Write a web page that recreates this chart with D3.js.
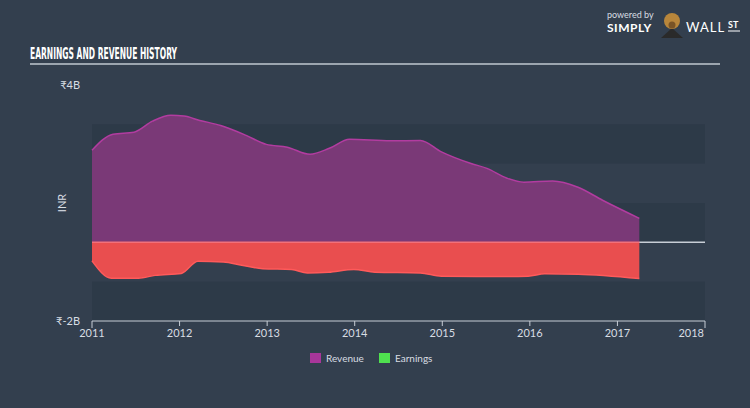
<!DOCTYPE html>
<html>
<head>
<meta charset="utf-8">
<script src="https://cdn.jsdelivr.net/npm/d3@7"></script>
<style>
  html, body { margin: 0; padding: 0; background: #333f4e; }
  svg { display: block; font-family: "Lato", "Open Sans", sans-serif; }
</style>
</head>
<body>
<svg id="chart" width="750" height="408"></svg>
<script>
// --- data (values in INR billions) ---
const revenueDates = [2011.0, 2011.24, 2011.48, 2011.69, 2011.9, 2012.05, 2012.23, 2012.47, 2012.76, 2012.99,
  2013.23, 2013.49, 2013.71, 2013.94, 2014.41, 2014.75, 2014.99, 2015.32, 2015.51, 2015.74,
  2015.93, 2016.26, 2016.55, 2016.83, 2017.25];
const revenueValues = [2.34, 2.75, 2.8, 3.08, 3.23, 3.21, 3.1, 2.97, 2.72, 2.49,
  2.42, 2.24, 2.39, 2.62, 2.58, 2.59, 2.3, 2.01, 1.88, 1.63,
  1.53, 1.56, 1.4, 1.07, 0.61];
const earningsDates = [2011.0, 2011.22, 2011.53, 2011.72, 2012.02, 2012.21, 2012.5, 2012.71, 2012.95, 2013.28,
  2013.46, 2013.7, 2013.99, 2014.23, 2014.75, 2014.99, 2015.6, 2015.98, 2016.17, 2016.55, 2017.25];
const earningsValues = [-0.47, -0.91, -0.91, -0.84, -0.79, -0.48, -0.5, -0.58, -0.67, -0.69,
  -0.78, -0.76, -0.69, -0.76, -0.78, -0.86, -0.87, -0.86, -0.8, -0.81, -0.92];
const yearTicks = [2011, 2012, 2013, 2014, 2015, 2016, 2017, 2018];
const bandEdges = [3, 2, 1, 0, -1, -2];
const yLabels = [{ v: 4, t: "₹4B" }, { v: -2, t: "₹-2B" }];
const legendItems = [{ name: "Revenue", color: "#a8369a" }, { name: "Earnings", color: "#4fe04f" }];

const svg = d3.select("#chart");
const x = d3.scaleLinear().domain([2011, 2018]).range([92, 705]);
const y = d3.scaleLinear().domain([-2, 4]).range([321, 85]);

// --- background bands ---
const bandColors = ["#2d3a48", "#333f4e", "#2d3a48", "#333f4e", "#2d3a48"];
svg.append("g").selectAll("rect")
  .data(d3.pairs(bandEdges))
  .enter().append("rect")
  .attr("x", x(2011))
  .attr("width", x(2018) - x(2011))
  .attr("y", d => y(d[0]))
  .attr("height", d => y(d[1]) - y(d[0]))
  .attr("fill", (d, i) => bandColors[i]);

// --- zero line ---
svg.append("line")
  .attr("x1", x(2011)).attr("x2", x(2018))
  .attr("y1", y(0)).attr("y2", y(0))
  .attr("stroke", "#c8ced6").attr("stroke-width", 1.5);

// --- areas ---
const rev = revenueDates.map((d, i) => [d, revenueValues[i]]);
const earn = earningsDates.map((d, i) => [d, earningsValues[i]]);

const area = d3.area().curve(d3.curveMonotoneX)
  .x(d => x(d[0])).y0(y(0)).y1(d => y(d[1]));
const line = d3.line().curve(d3.curveMonotoneX)
  .x(d => x(d[0])).y(d => y(d[1]));

svg.append("path").attr("d", area(rev)).attr("fill", "#7a3977");
svg.append("path").attr("d", line(rev)).attr("fill", "none")
  .attr("stroke", "#b23ca0").attr("stroke-width", 1.5);

svg.append("path").attr("d", area(earn)).attr("fill", "#e94e4f");
svg.append("path").attr("d", line(earn)).attr("fill", "none")
  .attr("stroke", "#ff5a5a").attr("stroke-width", 1.5);
svg.append("line")
  .attr("x1", x(2011)).attr("x2", x(earningsDates[earningsDates.length - 1]))
  .attr("y1", y(0)).attr("y2", y(0))
  .attr("stroke", "#f2707a").attr("stroke-width", 1.5);

// --- x axis ---
const xAxis = svg.append("g").attr("transform", `translate(0,${y(-2)})`);
xAxis.append("line")
  .attr("x1", x(2011)).attr("x2", x(2018))
  .attr("stroke", "#c8ced6").attr("stroke-width", 1);
xAxis.selectAll("line.tick").data(yearTicks).enter().append("line")
  .attr("class", "tick")
  .attr("x1", d => x(d)).attr("x2", d => x(d))
  .attr("y1", 0).attr("y2", (d, i) => (i === 0 || i === yearTicks.length - 1) ? 7 : 5)
  .attr("stroke", "#c8ced6").attr("stroke-width", 1);
xAxis.selectAll("text").data(yearTicks).enter().append("text")
  .attr("x", d => d === 2018 ? x(d) - 1 : x(d))
  .attr("y", 16)
  .attr("text-anchor", d => d === 2018 ? "end" : "middle")
  .attr("fill", "#d8dde3").attr("font-size", 11)
  .text(d => d);

// --- y labels ---
svg.selectAll("text.ylab").data(yLabels).enter().append("text")
  .attr("class", "ylab")
  .attr("x", 80).attr("y", d => y(d.v) + 4)
  .attr("text-anchor", "end")
  .attr("fill", "#d8dde3").attr("font-size", 11)
  .text(d => d.t);
svg.append("text")
  .attr("transform", `translate(66,${y(1)}) rotate(-90)`)
  .attr("text-anchor", "middle")
  .attr("fill", "#d8dde3").attr("font-size", 11)
  .text("INR");

// --- title ---
svg.append("text")
  .attr("x", 30).attr("y", 59)
  .attr("fill", "#ffffff")
  .attr("font-family", "'DejaVu Sans Condensed', 'Liberation Sans Narrow', sans-serif")
  .attr("font-weight", "bold").attr("font-size", 16)
  .attr("textLength", 147).attr("lengthAdjust", "spacingAndGlyphs")
  .text("EARNINGS AND REVENUE HISTORY");
svg.append("line")
  .attr("x1", 30).attr("x2", 720).attr("y1", 64).attr("y2", 64)
  .attr("stroke", "#c0c8d0").attr("stroke-width", 1.5);

// --- legend ---
const legend = svg.append("g").attr("transform", "translate(310,353)");
const li = legend.selectAll("g").data(legendItems).enter().append("g")
  .attr("transform", (d, i) => `translate(${i * 69},0)`);
li.append("rect").attr("width", 11).attr("height", 10).attr("fill", d => d.color);
li.append("text").attr("x", 16).attr("y", 9)
  .attr("fill", "#d8dde3").attr("font-size", 10)
  .text(d => d.name);

// --- logo ---
const logo = svg.append("g");
logo.append("text").attr("x", 607).attr("y", 18)
  .attr("fill", "#d8dde3").attr("font-size", 9).text("powered by");
logo.append("text").attr("x", 607).attr("y", 32)
  .attr("fill", "#ffffff").attr("font-size", 12).attr("font-weight", "bold")
  .attr("letter-spacing", 0.5).text("SIMPLY");
logo.append("path").attr("d", "M661,38 L672,28 L683,38 Z").attr("fill", "#2a2a2a");
logo.append("circle").attr("cx", 672).attr("cy", 21).attr("r", 8).attr("fill", "#b8863b");
logo.append("circle").attr("cx", 672).attr("cy", 25).attr("r", 3.5).attr("fill", "#7a5426");
logo.append("text").attr("x", 686).attr("y", 32)
  .attr("fill", "#ffffff").attr("font-size", 13).attr("letter-spacing", 1).text("WALL");
logo.append("text").attr("x", 728).attr("y", 28)
  .attr("fill", "#ffffff").attr("font-size", 9).attr("font-weight", "bold").text("ST");
logo.append("line").attr("x1", 728).attr("x2", 740).attr("y1", 31).attr("y2", 31)
  .attr("stroke", "#ffffff").attr("stroke-width", 1);
</script>
</body>
</html>
